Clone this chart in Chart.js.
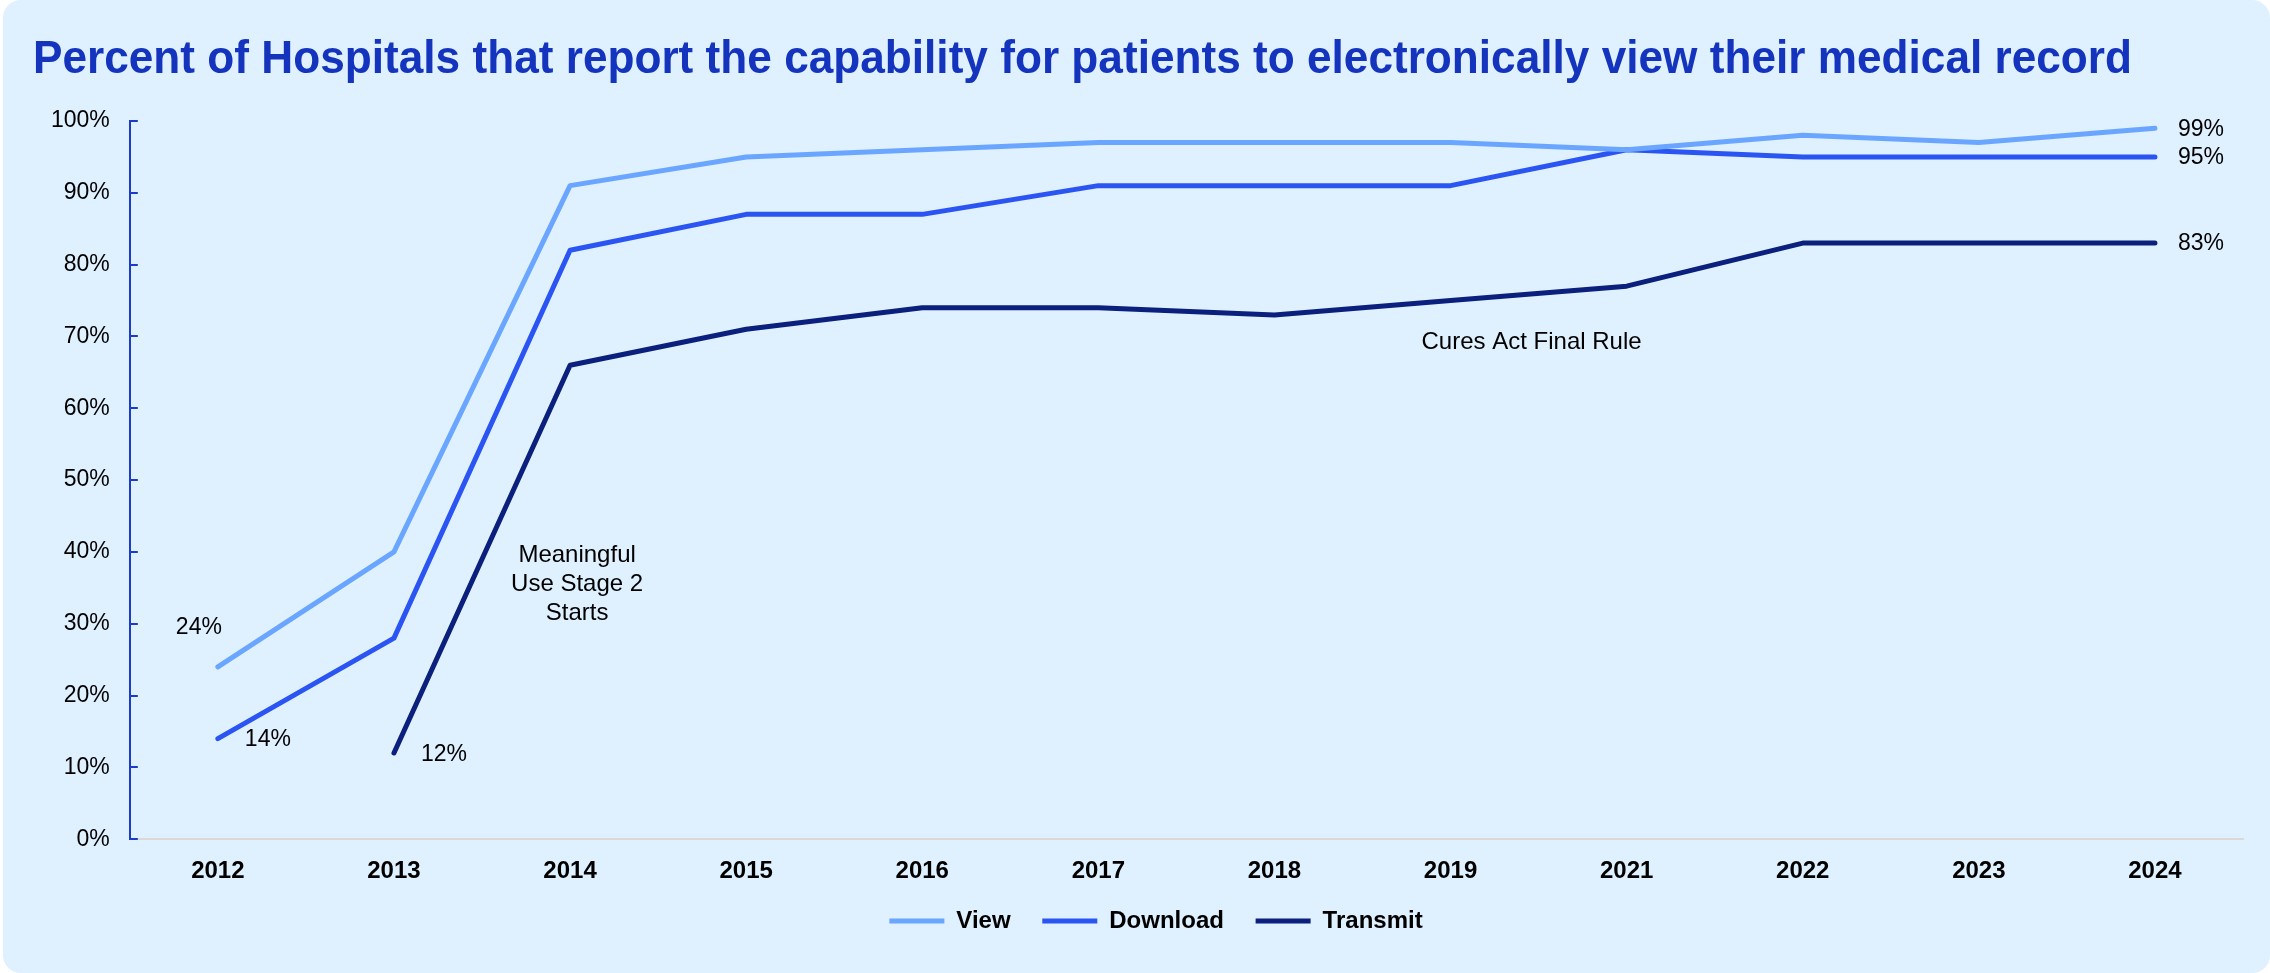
<!DOCTYPE html>
<html>
<head>
<meta charset="utf-8">
<title>Patient access to electronic records</title>
<script src="https://cdn.jsdelivr.net/npm/chart.js@4.4.1/dist/chart.umd.min.js"></script>
<style>
  html, body { margin: 0; padding: 0; background: #ffffff; overflow: hidden; }
  #panel { position: absolute; left: 3px; top: 0; width: 2267px; height: 973px; background: #DFF0FF; border-radius: 18px; }
  #wrap { position: absolute; left: 0; top: 0; width: 2270px; height: 973px; }
</style>
</head>
<body>
<div id="panel"></div>
<div id="wrap"><canvas id="chartCanvas"></canvas></div>
<script>
// Chart data (percent of hospitals)

var years = ['2012', '2013', '2014', '2015', '2016', '2017', '2018', '2019', '2021', '2022', '2023', '2024']
var viewPct = [24, 40, 91, 95, 96, 97, 97, 97, 96, 98, 97, 99]
var downloadPct = [14, 28, 82, 87, 87, 91, 91, 91, 96, 95, 95, 95]
var transmitPct = [null, 12, 66, 71, 74, 74, 73, 75, 77, 83, 83, 83]
var seriesNames = ['View', 'Download', 'Transmit']
var seriesColors = ['#6AA6FF', '#2B55F2', '#0B1F7C']

var titleText = 'Percent of Hospitals that report the capability for patients to electronically view their medical record'
var FONT = "'Liberation Sans', Arial, Helvetica, sans-serif"

// which points get a value label, and where it sits relative to the point
var valueLabels = [
    { ds: 0, i: 0, dx: -19, dy: -39, align: 'center' },
    { ds: 1, i: 0, dx: 27, dy: 1, align: 'left' },
    { ds: 2, i: 1, dx: 27, dy: 2, align: 'left' },
    { ds: 0, i: 11, dx: 23, dy: 1, align: 'left' },
    { ds: 1, i: 11, dx: 23, dy: 1, align: 'left' },
    { ds: 2, i: 11, dx: 23, dy: 1, align: 'left' }
]

// policy notes, placed in data units (category index, percent)
var notes = [
    { lines: ['Meaningful', 'Use Stage 2', 'Starts'], x: 2.04, y: 39.5 },
    { lines: ['Cures Act Final Rule'], x: 7.46, y: 69.2 }
]

Chart.defaults.font.family = FONT
Chart.defaults.color = '#000000'

// title across the top, squeezed a little like the original deck
var titlePlugin = {
    id: 'bigTitle',
    afterDraw: function(chart) {
        var ctx = chart.ctx
        ctx.save()
        ctx.font = 'bold 46px ' + FONT
        ctx.fillStyle = '#1434BE'
        ctx.textBaseline = 'alphabetic'
        var w = ctx.measureText(titleText).width
        var target = 2099
        ctx.translate(33, 73)
        ctx.scale(target / w, 1)
        ctx.fillText(titleText, 0, 0)
        ctx.restore()
    }
}

// short tick marks pointing into the plot on the y axis
var innerTicks = {
    id: 'innerTicks',
    afterDraw: function(chart) {
        var ctx = chart.ctx
        var y = chart.scales.y
        var left = chart.chartArea.left
        ctx.save()
        ctx.strokeStyle = '#1A3CC8'
        ctx.lineWidth = 2
        y.ticks.forEach(function(t, k) {
            var py = Math.round(y.getPixelForTick(k))
            ctx.beginPath()
            ctx.moveTo(left, py)
            ctx.lineTo(left + 8, py)
            ctx.stroke()
        })
        ctx.restore()
    }
}

// push the legend a bit to the right so it sits under the plot
var legendNudge = {
    id: 'legendNudge',
    afterLayout: function(chart) {
        if (chart.legend) {
            chart.legend.left += 19
            chart.legend.right += 19
        }
    }
}

var labelPlugin = {
    id: 'valueLabels',
    afterDatasetsDraw: function(chart) {
        var ctx = chart.ctx
        ctx.save()
        ctx.font = '23px ' + FONT
        ctx.fillStyle = '#000000'
        ctx.textBaseline = 'middle'
        valueLabels.forEach(function(l) {
            var pt = chart.getDatasetMeta(l.ds).data[l.i]
            var v = chart.data.datasets[l.ds].data[l.i]
            ctx.textAlign = l.align
            ctx.fillText(v + '%', pt.x + l.dx, pt.y + l.dy)
        })
        ctx.font = '24px ' + FONT
        ctx.textAlign = 'center'
        notes.forEach(function(n) {
            var px = chart.scales.x.getPixelForValue(n.x)
            var py = chart.scales.y.getPixelForValue(n.y)
            n.lines.forEach(function(line, k) {
                ctx.fillText(line, px, py + k * 29)
            })
        })
        ctx.restore()
    }
}

function makeSet(k, values) {
    return {
        label: seriesNames[k],
        data: values,
        borderColor: seriesColors[k],
        backgroundColor: seriesColors[k],
        borderWidth: 5,
        borderCapStyle: 'round',
        borderJoinStyle: 'round',
        pointRadius: 0,
        pointHoverRadius: 0,
        tension: 0,
        fill: false
    }
}

// legend entries with some trailing room so the items spread out
function legendLabels(chart) {
    var items = Chart.defaults.plugins.legend.labels.generateLabels(chart)
    items.forEach(function(it, k) {
        if (k < items.length - 1) it.text = it.text + '    '
    })
    return items
}

function LoadChart() {
    var ctx = document.getElementById('chartCanvas').getContext('2d')
    var chart = new Chart(ctx, {
        type: 'line',
        data: {
            labels: years,
            datasets: [makeSet(0, viewPct), makeSet(1, downloadPct), makeSet(2, transmitPct)]
        },
        options: {
            responsive: true,
            maintainAspectRatio: false,
            devicePixelRatio: 1,
            animation: false,
            layout: { padding: { top: 121, left: 31, right: 27, bottom: 30 } },
            plugins: {
                title: { display: false },
                tooltip: { enabled: false },
                legend: {
                    display: true,
                    position: 'bottom',
                    labels: {
                        usePointStyle: true,
                        pointStyle: 'line',
                        pointStyleWidth: 55,
                        padding: 5,
                        color: '#000000',
                        font: { size: 24, weight: 'bold' },
                        generateLabels: legendLabels
                    }
                }
            },
            scales: {
                x: {
                    offset: true,
                    grid: { display: false, drawTicks: false },
                    border: { display: true, color: '#D9D9D9', width: 2 },
                    ticks: { padding: 18, color: '#000000', font: { size: 24, weight: 'bold' } }
                },
                y: {
                    min: 0,
                    max: 100,
                    grid: { display: false, drawTicks: false },
                    border: { display: true, color: '#1A3CC8', width: 2 },
                    ticks: {
                        stepSize: 10,
                        padding: 20,
                        color: '#000000',
                        font: { size: 23 },
                        callback: function(v) { return v + '%' }
                    }
                }
            }
        },
        plugins: [titlePlugin, innerTicks, legendNudge, labelPlugin]
    })
    return chart
}

LoadChart()
</script>
</body>
</html>
